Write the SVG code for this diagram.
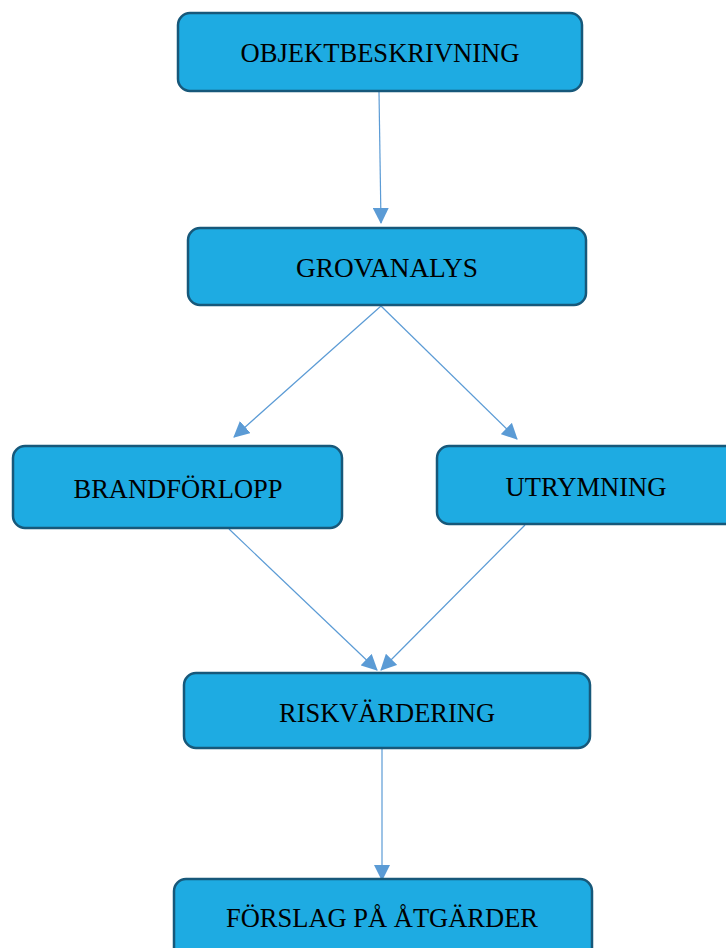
<svg xmlns="http://www.w3.org/2000/svg" width="726" height="948" viewBox="0 0 726 948">
<style>
.box{fill:#1eabe2;stroke:#17587a;stroke-width:2.5}
.lbl{font-family:"Liberation Serif","Times New Roman",serif;font-size:28px;fill:#000;text-anchor:middle}
.con{stroke:#5b9bd5;stroke-width:1.2;fill:none;marker-end:url(#ah)}
</style>
<defs>
<marker id="ah" viewBox="0 0 16 16" refX="15" refY="8" markerWidth="16" markerHeight="16" markerUnits="userSpaceOnUse" orient="auto">
<path d="M0,0 L16,8 L0,16 Z" fill="#5b9bd5"/>
</marker>
</defs>
<rect width="726" height="948" fill="#fff"/>
<g id="connectors">
<line class="con" x1="379" y1="92" x2="381" y2="223"/>
<line class="con" x1="381" y1="306" x2="234" y2="437"/>
<line class="con" x1="381" y1="306" x2="517" y2="439"/>
<line class="con" x1="229" y1="529" x2="377" y2="670"/>
<line class="con" x1="525" y1="525" x2="381" y2="670"/>
<line class="con" x1="382" y1="749" x2="382" y2="880"/>
</g>
<g id="objektbeskrivning">
<rect class="box" x="178" y="13" width="404" height="78" rx="12"/>
<text class="lbl" x="380" y="62" textLength="279" lengthAdjust="spacingAndGlyphs">OBJEKTBESKRIVNING</text>
</g>
<g id="grovanalys">
<rect class="box" x="188" y="228" width="398" height="77" rx="12"/>
<text class="lbl" x="387" y="277" textLength="182" lengthAdjust="spacingAndGlyphs">GROVANALYS</text>
</g>
<g id="brandforlopp">
<rect class="box" x="13" y="446" width="329" height="82" rx="12"/>
<text class="lbl" x="178" y="498" textLength="209" lengthAdjust="spacingAndGlyphs">BRANDFÖRLOPP</text>
</g>
<g id="utrymning">
<rect class="box" x="437" y="446" width="310" height="78" rx="12"/>
<text class="lbl" x="586" y="496" textLength="161" lengthAdjust="spacingAndGlyphs">UTRYMNING</text>
</g>
<g id="riskvardering">
<rect class="box" x="184" y="673" width="406" height="75" rx="12"/>
<text class="lbl" x="387" y="722" textLength="216" lengthAdjust="spacingAndGlyphs">RISKVÄRDERING</text>
</g>
<g id="forslag">
<rect class="box" x="174" y="879" width="418" height="90" rx="12"/>
<text class="lbl" x="382" y="927" textLength="312" lengthAdjust="spacingAndGlyphs">FÖRSLAG PÅ ÅTGÄRDER</text>
</g>
</svg>
